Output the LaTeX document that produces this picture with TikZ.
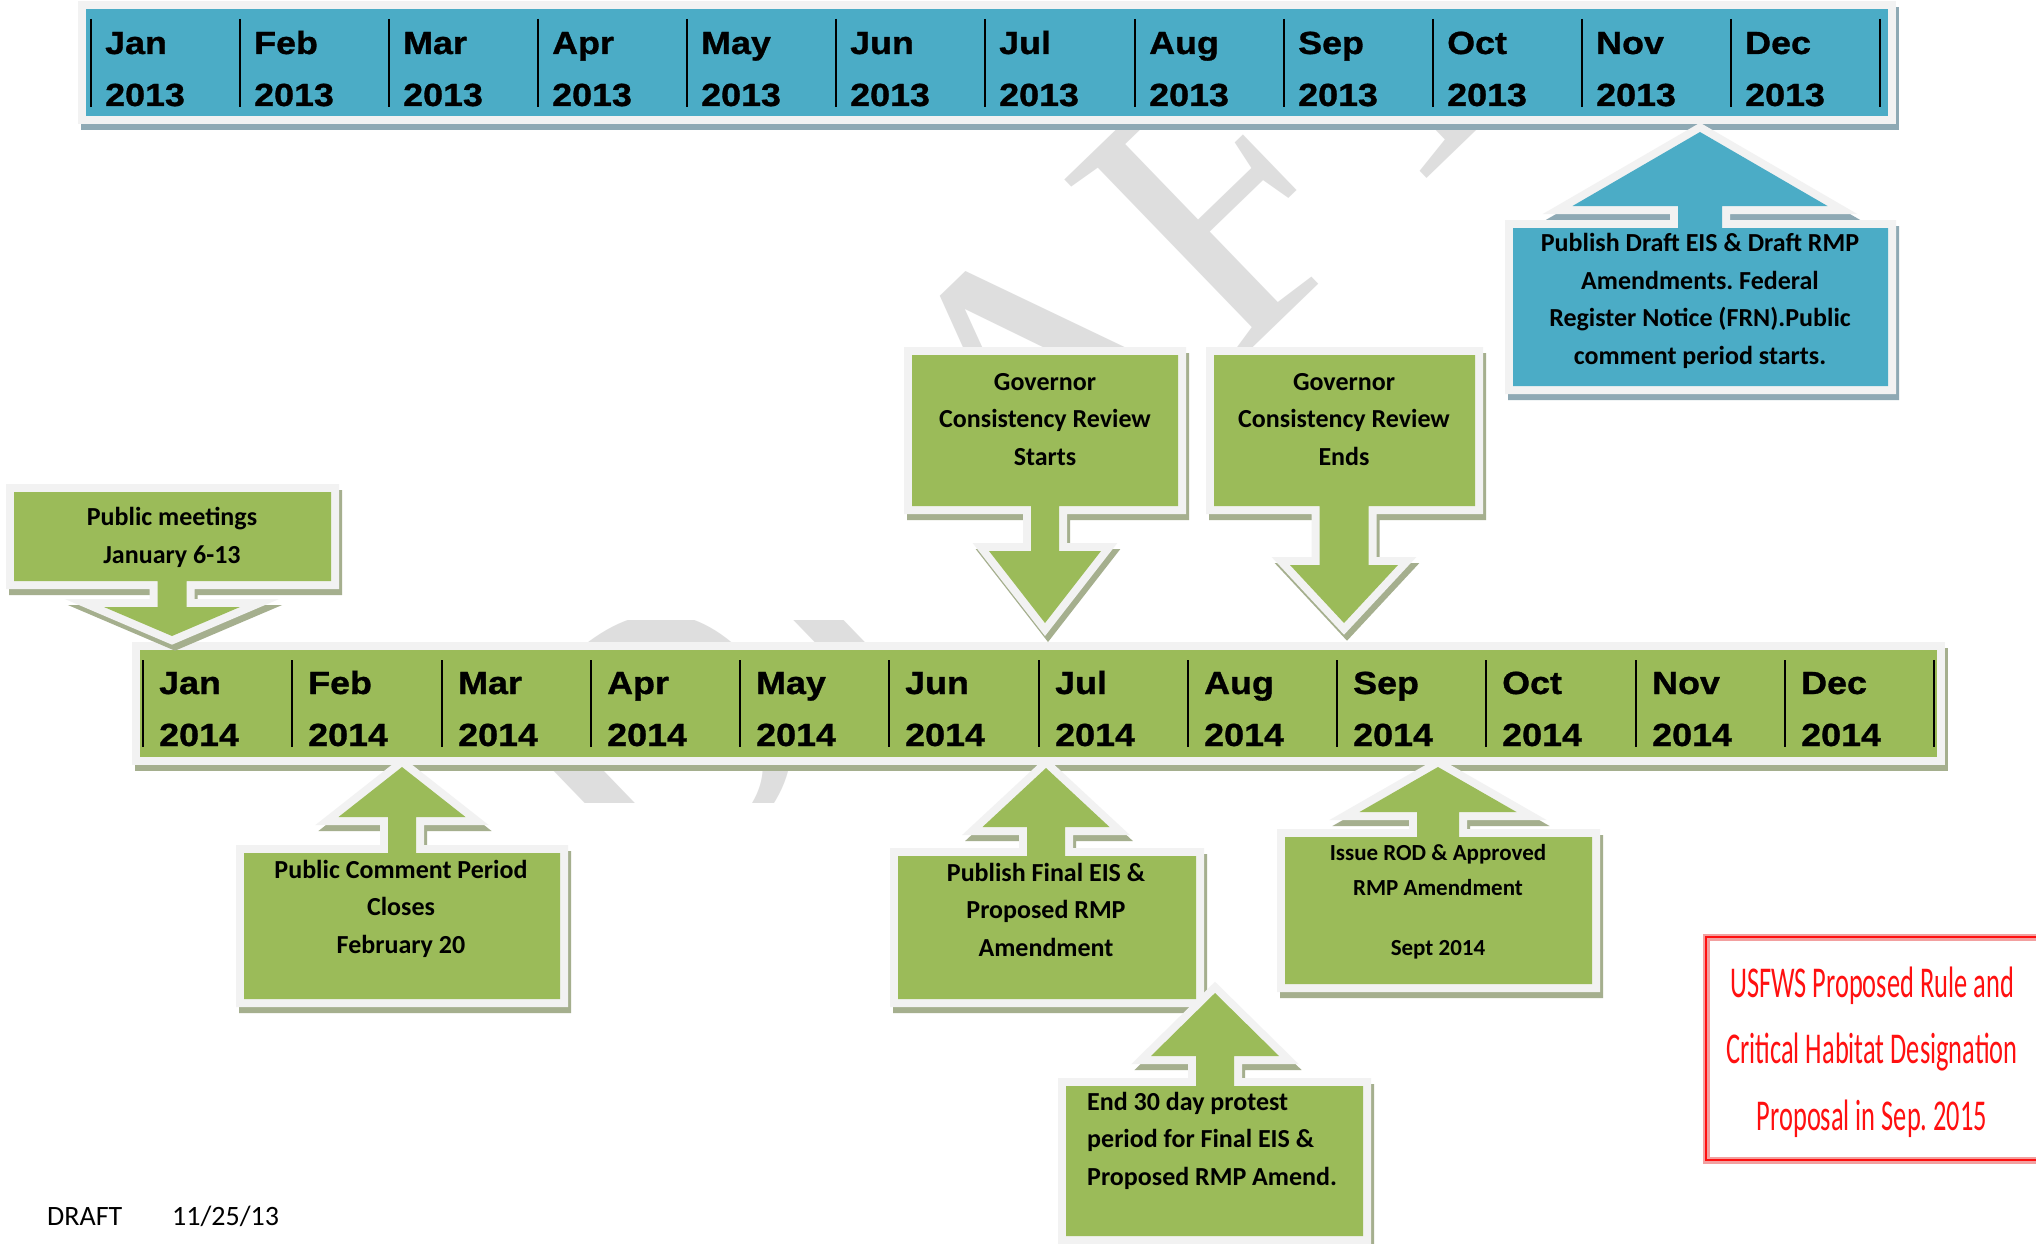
\documentclass[tikz,border=0pt]{standalone}
\usepackage{fontspec}
\setmainfont{Carlito}
\newfontfamily\monthfont[FakeStretch=1.12,FakeBold=1]{Liberation Sans}
\newfontfamily\condfont[FakeStretch=0.6]{Carlito}
\newfontfamily\wmfont{Liberation Serif}
\frenchspacing

\definecolor{calblue}{HTML}{4BACC6}
\definecolor{calgreen}{HTML}{9BBB59}
\definecolor{framegray}{HTML}{F2F2F2}
\definecolor{blueshadow}{HTML}{8EA9B4}
\definecolor{greenshadow}{HTML}{A5AF8E}
\definecolor{wmgray}{HTML}{DEDEDE}
\definecolor{usfwsred}{HTML}{FF1010}
\definecolor{redglow}{HTML}{F2A0A0}

\tikzset{
  callout/.style 2 args={preaction={draw=#2, fill=#2, line width=16pt,
      transform canvas={shift={(3pt,-6pt)}}},
    draw=framegray, line width=16pt, fill=#1, postaction={fill=#1}},
  sepline/.style={line width=2pt},
  month/.style={anchor=base west, align=left, inner sep=0pt,
    font=\monthfont\bfseries\fontsize{32}{52}\selectfont},
  boxtext/.style={anchor=base, align=center, inner sep=0pt,
    font=\bfseries\fontsize{26}{37.5}\selectfont},
}

\begin{document}
\begin{tikzpicture}[x=1pt, y=-1pt]
  \useasboundingbox (0,0) rectangle (2036,1244);
  \fill[white] (0,0) rectangle (2036,1244);

  % watermark, only partly showing
  \begin{scope}
    \clip (850,120) rectangle (1650,350) (850,120) rectangle (905,380) (400,620) rectangle (900,802);
    \node[rotate=44, inner sep=0pt, text=wmgray, font=\wmfont\fontsize{384}{384}\selectfont] (wmark) at (1013,403) {DRAFT};
  \end{scope}

  % 2013 bar
  \path[callout={calblue}{blueshadow}] (86,9) rectangle (1888,116);
  \draw[sepline] (91,19) -- (91,107) (240,19) -- (240,107) (389,19) -- (389,107) (538,19) -- (538,107)
    (687,19) -- (687,107) (836,19) -- (836,107) (985,19) -- (985,107) (1135,19) -- (1135,107)
    (1284,19) -- (1284,107) (1433,19) -- (1433,107) (1582,19) -- (1582,107) (1731,19) -- (1731,107)
    (1880,19) -- (1880,107);
  \node[month] (jan13) at (105,106) {Jan\\2013};
  \node[month] (feb13) at (254,106) {Feb\\2013};
  \node[month] (mar13) at (403,106) {Mar\\2013};
  \node[month] (apr13) at (552,106) {Apr\\2013};
  \node[month] (may13) at (701,106) {May\\2013};
  \node[month] (jun13) at (850,106) {Jun\\2013};
  \node[month] (jul13) at (999,106) {Jul\\2013};
  \node[month] (aug13) at (1149,106) {Aug\\2013};
  \node[month] (sep13) at (1298,106) {Sep\\2013};
  \node[month] (oct13) at (1447,106) {Oct\\2013};
  \node[month] (nov13) at (1596,106) {Nov\\2013};
  \node[month] (dec13) at (1745,106) {Dec\\2013};

  % 2014 bar
  \path[callout={calgreen}{greenshadow}] (140,650) rectangle (1937,757);
  \draw[sepline] (143,660) -- (143,747) (292,660) -- (292,747) (442,660) -- (442,747) (591,660) -- (591,747)
    (740,660) -- (740,747) (889,660) -- (889,747) (1039,660) -- (1039,747) (1188,660) -- (1188,747)
    (1337,660) -- (1337,747) (1486,660) -- (1486,747) (1636,660) -- (1636,747) (1785,660) -- (1785,747)
    (1934,660) -- (1934,747);
  \node[month] (jan14) at (159,746) {Jan\\2014};
  \node[month] (feb14) at (308,746) {Feb\\2014};
  \node[month] (mar14) at (458,746) {Mar\\2014};
  \node[month] (apr14) at (607,746) {Apr\\2014};
  \node[month] (may14) at (756,746) {May\\2014};
  \node[month] (jun14) at (905,746) {Jun\\2014};
  \node[month] (jul14) at (1055,746) {Jul\\2014};
  \node[month] (aug14) at (1204,746) {Aug\\2014};
  \node[month] (sep14) at (1353,746) {Sep\\2014};
  \node[month] (oct14) at (1502,746) {Oct\\2014};
  \node[month] (nov14) at (1652,746) {Nov\\2014};
  \node[month] (dec14) at (1801,746) {Dec\\2014};

  % callouts above the 2014 bar
  \path[callout={calgreen}{greenshadow}] (14,492) -- (331,492) -- (331,581) -- (186.5,581) -- (186.5,607) -- (240,607)
    -- (172,636) -- (104,607) -- (157.5,607) -- (157.5,581) -- (14,581) -- cycle;
  \node[boxtext] (pubmeet) at (172,563) {Public meetings\\January 6-13};
  \path[callout={calgreen}{greenshadow}] (912,355) -- (1178,355) -- (1178,506) -- (1059,506) -- (1059,551) -- (1101,551)
    -- (1045,623) -- (989,551) -- (1031,551) -- (1031,506) -- (912,506) -- cycle;
  \node[boxtext] (govstart) at (1045,465) {Governor\\Consistency Review\\Starts};
  \path[callout={calgreen}{greenshadow}] (1214,355) -- (1475,355) -- (1475,506) -- (1368.5,506) -- (1368.5,565) -- (1398,565)
    -- (1344,623) -- (1290,565) -- (1319.5,565) -- (1319.5,506) -- (1214,506) -- cycle;
  \node[boxtext] (govend) at (1344,465) {Governor\\Consistency Review\\Ends};
  \path[callout={calblue}{blueshadow}] (1513,228) -- (1678,228) -- (1678,206) -- (1572.5,206) -- (1700,132)
    -- (1827.5,206) -- (1722,206) -- (1722,228) -- (1888,228) -- (1888,386) -- (1513,386) -- cycle;
  \node[boxtext] (drafteis) at (1700,364) {Publish Draft EIS \& Draft RMP\\Amendments. Federal\\Register Notice (FRN).Public\\comment period starts.};

  % callouts below the 2014 bar
  \path[callout={calgreen}{greenshadow}] (244,853) -- (388,853) -- (388,817) -- (338.5,817) -- (402,767)
    -- (465.5,817) -- (416,817) -- (416,853) -- (560,853) -- (560,999) -- (244,999) -- cycle;
  \node[boxtext] (pubcomm) at (401,953) {Public Comment Period\\Closes\\February 20};
  \path[callout={calgreen}{greenshadow}] (898,856) -- (1027,856) -- (1027,827) -- (982.5,827) -- (1046,768)
    -- (1109.5,827) -- (1065,827) -- (1065,856) -- (1196,856) -- (1196,999) -- (898,999) -- cycle;
  \node[boxtext] (finaleis) at (1046,956) {Publish Final EIS \&\\Proposed RMP\\Amendment};
  \path[callout={calgreen}{greenshadow}] (1285,837) -- (1417,837) -- (1417,812) -- (1359.5,812) -- (1438,767)
    -- (1516.5,812) -- (1459,812) -- (1459,837) -- (1592,837) -- (1592,984) -- (1285,984) -- cycle;
  \node[boxtext, font=\bfseries\fontsize{23}{35}\selectfont] (issuerod) at (1438,955) {Issue ROD \& Approved\\RMP Amendment\\[25pt]Sept 2014};
  \path[callout={calgreen}{greenshadow}] (1066,1086) -- (1196,1086) -- (1196,1056) -- (1151,1056) -- (1215,993)
    -- (1279,1056) -- (1234,1056) -- (1234,1086) -- (1363,1086) -- (1363,1236) -- (1066,1236) -- cycle;
  \node[boxtext, anchor=base west, align=left] (protest) at (1087,1185) {End 30 day protest\\period for Final EIS \&\\Proposed RMP Amend.};

  % note box and stamp
  \draw[redglow, line width=7pt] (1706,937) rectangle (2060,1160);
  \draw[usfwsred, line width=2.5pt] (1706,937) rectangle (2060,1160);
  \node[anchor=base, align=center, inner sep=0pt, text=usfwsred, font=\condfont\fontsize{44}{66.5}\selectfont] (usfws) at (1872,1130)
    {USFWS Proposed Rule and\\Critical Habitat Designation\\Proposal in Sep. 2015};
  \node[anchor=base west, inner sep=0pt, font=\fontsize{28}{30}\selectfont] (stamp) at (47,1225) {\makebox[125pt][l]{DRAFT}11/25/13};
\end{tikzpicture}
\end{document}
